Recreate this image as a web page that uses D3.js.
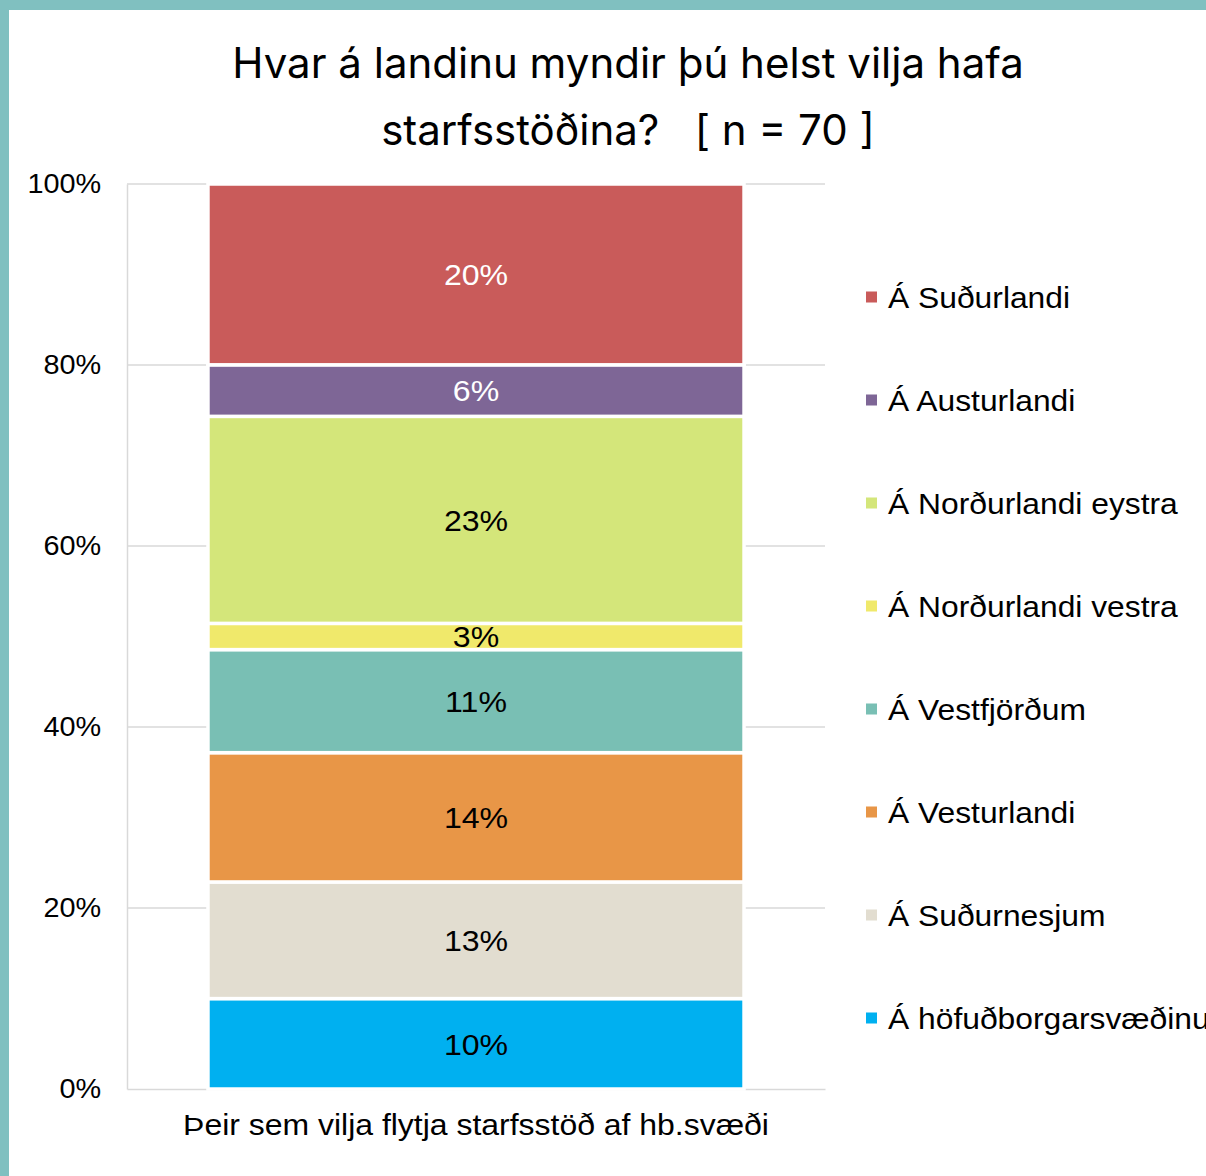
<!DOCTYPE html>
<html><head><meta charset="utf-8">
<script src="https://cdn.jsdelivr.net/npm/d3@7"></script>
<style>
html,body{margin:0;padding:0;background:#fff;overflow:hidden;}
svg{display:block;}
</style></head>
<body>
<svg id="chart" width="1206" height="1176"></svg>
<script>
// Data (percent of respondents, n = 70), bottom to top
const categories = ["Á höfuðborgarsvæðinu","Á Suðurnesjum","Á Vesturlandi","Á Vestfjörðum","Á Norðurlandi vestra","Á Norðurlandi eystra","Á Austurlandi","Á Suðurlandi"];
const values = [10.0, 12.9, 14.3, 11.4, 2.9, 22.9, 5.7, 20.0];
const colors = ["#00B0F0","#E2DDD0","#E89647","#79BFB4","#F0E96B","#D4E67A","#7E6696","#C95B5A"];
const labelColors = ["#000","#000","#000","#000","#000","#000","#fff","#fff"];
const barName = "Þeir sem vilja flytja starfsstöð af hb.svæði";
const tickValues = [0,20,40,60,80,100];
const titleLines = ["Hvar á landinu myndir þú helst vilja hafa","starfsstöðina?   [ n = 70 ]"];

const svg = d3.select("#chart");
const W = 1206, H = 1176;
const FONT = "'Liberation Sans',Arial,sans-serif";
// frame
svg.append("rect").attr("x",0).attr("y",0).attr("width",W).attr("height",H).attr("fill","#80C0C0");
svg.append("rect").attr("x",9).attr("y",10).attr("width",W-9).attr("height",H-10).attr("fill","#fff");

const plot = {left:127, right:825, top:184, bottom:1089};
const y = d3.scaleLinear().domain([0,100]).range([plot.bottom, plot.top]);
const x = d3.scaleBand().domain([barName]).range([plot.left, plot.right]).padding(0);
const barW = x.bandwidth()*0.768;
const barX = x(barName) + (x.bandwidth()-barW)/2;

// gridlines
const grid = svg.append("g");
grid.selectAll("line").data(tickValues.filter(d=>d>0)).join("line")
  .attr("x1",plot.left).attr("x2",plot.right)
  .attr("y1",d=>y(d)).attr("y2",d=>y(d))
  .attr("stroke","#d9d9d9").attr("stroke-width",1.5);

// axes
const yAxis = d3.axisLeft(y).tickValues(tickValues).tickFormat(d=>d+"%").tickSize(0).tickPadding(25);
const gy = svg.append("g").attr("transform",`translate(${plot.left},0)`).call(yAxis);
gy.select(".domain").attr("stroke","#d9d9d9").attr("stroke-width",1.5);
gy.selectAll("text").attr("font-family",FONT).attr("font-size",28).attr("fill","#000")
  .attr("transform","scale(1.03,1)");

const xAxis = d3.axisBottom(x).tickSize(0).tickPadding(25);
const gx = svg.append("g").attr("transform",`translate(0,${plot.bottom})`).call(xAxis);
gx.select(".domain").attr("stroke","#d9d9d9").attr("stroke-width",1.5);
gx.selectAll("text").attr("font-family",FONT).attr("font-size",30).attr("fill","#000")
  .attr("transform","scale(1.065,1)");

// stacked segments
const stackData = [];
let cum = 0;
values.forEach((v,i)=>{ stackData.push({i, y0:cum, y1:cum+v, v}); cum += v; });
const total = cum;
const yv = d => y(d/total*100);

svg.append("g").selectAll("rect").data(stackData).join("rect")
  .attr("x",barX).attr("width",barW)
  .attr("y",d=>yv(d.y1)).attr("height",d=>yv(d.y0)-yv(d.y1))
  .attr("fill",d=>colors[d.i]).attr("stroke","#fff").attr("stroke-width",3.5);

svg.append("g").selectAll("text").data(stackData).join("text")
  .attr("transform",d=>`translate(${barX+barW/2},${(yv(d.y0)+yv(d.y1))/2}) scale(1.07,1)`)
  .attr("dy","0.36em").attr("text-anchor","middle")
  .attr("font-family",FONT).attr("font-size",30)
  .attr("fill",d=>labelColors[d.i])
  .text(d=>Math.round(d.v)+"%");

// legend (top = last series)
const legendOrder = d3.range(categories.length).reverse();
const lg = svg.append("g");
const ly = d3.scalePoint().domain(legendOrder).range([297,1018]);
const items = lg.selectAll("g").data(legendOrder).join("g")
  .attr("transform",d=>`translate(866,${ly(d)})`);
items.append("rect").attr("x",0).attr("y",-5.5).attr("width",11).attr("height",11).attr("fill",d=>colors[d]);
items.append("text").attr("transform","translate(22,0) scale(1.06,1)").attr("dy","0.36em")
  .attr("font-family",FONT).attr("font-size",30).attr("fill","#000")
  .text(d=>categories[d]);

// title
svg.append("g").selectAll("text").data(titleLines).join("text")
  .attr("x",628).attr("y",(d,i)=>78+i*67).attr("text-anchor","middle")
  .attr("font-family","Inter,sans-serif").attr("font-size",42).attr("fill","#000")
  .attr("xml:space","preserve").style("white-space","pre")
  .text(d=>d);
</script>
</body></html>
